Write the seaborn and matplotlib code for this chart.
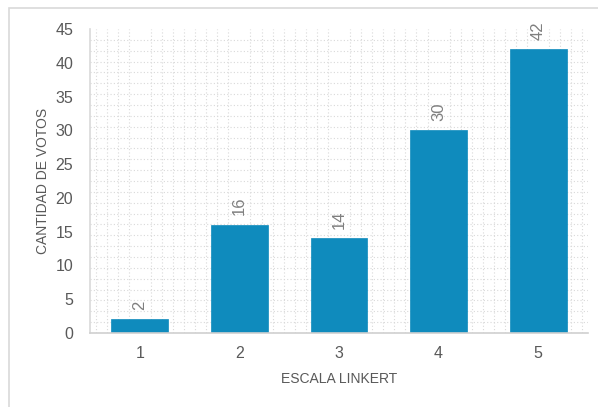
import matplotlib
matplotlib.use("Agg")
import matplotlib.pyplot as plt
from matplotlib.ticker import MultipleLocator
from matplotlib.patches import Rectangle
import seaborn as sns
import pandas as pd

categories = ["1", "2", "3", "4", "5"]
votes = [2, 16, 14, 30, 42]

sns.set_theme(style="white")
plt.rcParams["font.family"] = ["Liberation Sans", "DejaVu Sans"]

df = pd.DataFrame({"escala": categories, "votos": votes})

fig = plt.figure(figsize=(5.98, 4.07), dpi=100)
fig.patch.set_facecolor("white")
fig.patches.append(Rectangle((9 / 598, -0.1), 1.2, 1.1 - 8 / 407,
                             transform=fig.transFigure, fill=False,
                             edgecolor="#d9d9d9", linewidth=1.2))
ax = fig.add_axes([90 / 598, 1 - 333 / 407, 498 / 598, 304 / 407])

bar_color = "#0f8bbd"
sns.barplot(data=df, x="escala", y="votos", color=bar_color, width=0.57,
            saturation=1, ax=ax, edgecolor=bar_color, linewidth=0.5)

ax.set_ylim(0, 45)
ax.set_xlim(-0.5, 4.5)
ax.yaxis.set_major_locator(MultipleLocator(5))
ax.yaxis.set_minor_locator(MultipleLocator(45 / 28))
ax.xaxis.set_minor_locator(MultipleLocator(1 / 9))
ax.grid(which="minor", axis="both", color="#d9d9d9", linestyle=(0, (1, 2)),
        linewidth=0.8)
ax.grid(which="major", axis="both", visible=False)
ax.set_axisbelow(True)

for side in ["top", "right"]:
    ax.spines[side].set_visible(False)
ax.spines["left"].set_color("#d9d9d9")
ax.spines["left"].set_linewidth(1.2)
ax.spines["bottom"].set_color("#d0d0d0")
ax.spines["bottom"].set_linewidth(1.2)

ax.tick_params(axis="both", which="both", length=0, labelsize=11.5,
               labelcolor="#595959")
ax.tick_params(axis="x", pad=9)
ax.tick_params(axis="y", pad=12)

ax.set_xlabel("ESCALA LINKERT", fontsize=10, color="#595959", labelpad=8)
ax.set_ylabel("CANTIDAD DE VOTOS", fontsize=10, color="#595959", labelpad=4)

for i, v in enumerate(votes):
    ax.text(i, v + 1.4, str(v), rotation=90, ha="center", va="bottom",
            fontsize=12, color="#7f7f7f")

fig.savefig("out.png", dpi=100, facecolor="white")
